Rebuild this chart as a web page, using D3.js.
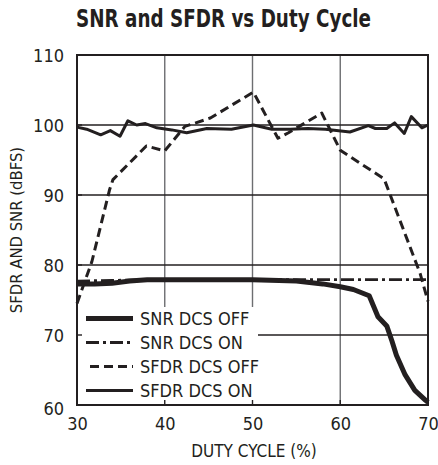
<!DOCTYPE html>
<html>
<head>
<meta charset="utf-8">
<script src="https://cdn.jsdelivr.net/npm/d3@7"></script>
<style>
  html, body { margin: 0; padding: 0; background: #fff; }
  svg { display: block; }
  text { font-family: 'Liberation Sans Narrow', 'Arial Narrow', 'DejaVu Sans Condensed', sans-serif; fill: #231f20; }
</style>
</head>
<body>
<svg id="chart" width="438" height="465"></svg>
<script>
// Duty cycle (%) sample positions and measured levels (dBFS) for each trace
const snrOffDuty = [30, 32, 34, 36, 38, 45, 50, 55, 58, 60, 61.5, 63.3, 64.3, 65.3, 65.9, 66.4, 67.4, 68.5, 69.7, 70];
const snrOffVal  = [77.3, 77.3, 77.4, 77.7, 77.9, 77.9, 77.9, 77.7, 77.3, 76.9, 76.5, 75.6, 72.6, 71.3, 69.1, 67.1, 64.3, 62.1, 60.7, 60.4];

const snrOnDuty = [30, 34, 38, 50, 60, 70];
const snrOnVal  = [77.7, 77.8, 77.9, 77.9, 77.9, 77.9];

const sfdrOffDuty = [30, 31.7, 33.7, 34.1, 37.9, 40, 42.3, 45.2, 50.1, 52.9, 54.1, 57.9, 60, 65, 69.1, 70];
const sfdrOffVal  = [74.5, 80.5, 90.7, 92.2, 97.0, 96.3, 99.8, 101, 104.7, 98.1, 98.9, 101.7, 96.4, 92.3, 78.8, 74.8];

const sfdrOnDuty = [30, 31.1, 32.7, 33.8, 34.9, 35.8, 36.8, 37.8, 39.1, 40.8, 42.5, 44.8, 47.6, 50.1, 52.2, 54.3, 56.3, 58.3, 61.1, 63.2, 64, 65.3, 66.2, 67.3, 68.1, 69.3, 70];
const sfdrOnVal  = [99.7, 99.4, 98.6, 99.2, 98.4, 100.6, 100, 100.2, 99.6, 99.3, 98.9, 99.5, 99.4, 100, 99.4, 99.4, 99.5, 99.4, 99.0, 99.9, 99.5, 99.5, 100.3, 98.8, 101.2, 99.6, 100];

const xTicks = [30, 40, 50, 60, 70];
const yTicks = [60, 70, 80, 90, 100, 110];
const legendLabels = ["SNR DCS OFF", "SNR DCS ON", "SFDR DCS OFF", "SFDR DCS ON"];

const ink = "#231f20";
const plotL = 77, plotR = 428, plotT = 55, plotB = 405;

const svg = d3.select("#chart");
const x = d3.scaleLinear().domain([30, 70]).range([plotL, plotR]);
const y = d3.scaleLinear().domain([60, 110]).range([plotB, plotT]);

// Title, squeezed to a condensed width
svg.append("text")
  .attr("x", 76).attr("y", 27)
  .attr("textLength", 295).attr("lengthAdjust", "spacingAndGlyphs")
  .style("font-size", "24px").style("font-weight", "bold")
  .text("SNR and SFDR vs Duty Cycle");

// Grid: light vertical lines, dark horizontal lines
const grid = svg.append("g");
grid.selectAll("line.v").data(xTicks.slice(1, -1)).enter().append("line")
  .attr("x1", d => x(d)).attr("x2", d => x(d))
  .attr("y1", plotT).attr("y2", plotB)
  .attr("stroke", "#6d6e71").attr("stroke-width", 1.4);
grid.selectAll("line.h").data(yTicks.slice(1, -1)).enter().append("line")
  .attr("x1", plotL).attr("x2", plotR)
  .attr("y1", d => y(d)).attr("y2", d => y(d))
  .attr("stroke", ink).attr("stroke-width", 1.4);

const line = d3.line().x(d => x(d[0])).y(d => y(d[1]));
const pairs = (xs, ys) => xs.map((v, i) => [v, ys[i]]);

const styles = [
  { data: pairs(snrOffDuty, snrOffVal), width: 5, dash: null },
  { data: pairs(snrOnDuty, snrOnVal), width: 2.8, dash: "13,4,3,4" },
  { data: pairs(sfdrOffDuty, sfdrOffVal), width: 3, dash: "9,5" },
  { data: pairs(sfdrOnDuty, sfdrOnVal), width: 3, dash: null }
];

const traces = svg.append("g");
[styles[2], styles[1], styles[0], styles[3]].forEach(s => {
  traces.append("path")
    .attr("d", line(s.data))
    .attr("fill", "none")
    .attr("stroke", ink)
    .attr("stroke-width", s.width)
    .attr("stroke-linejoin", "round")
    .attr("stroke-dasharray", s.dash);
});

// Legend panel
const lg = svg.append("g");
lg.append("rect")
  .attr("x", plotL).attr("y", 307).attr("width", 181).attr("height", plotB - 307)
  .attr("fill", "#fff");
const rowY = [318.5, 342.5, 366.5, 390.5];
legendLabels.forEach((lab, i) => {
  const s = styles[i];
  lg.append("line")
    .attr("x1", i === 2 ? 90 : 86).attr("x2", 133)
    .attr("y1", rowY[i]).attr("y2", rowY[i])
    .attr("stroke", ink).attr("stroke-width", s.width)
    .attr("stroke-dasharray", s.dash);
  lg.append("text")
    .attr("x", 140).attr("y", rowY[i] + 6.5)
    .style("font-size", "18px")
    .text(lab);
});

// Short inward ticks along the edges
const ticks = svg.append("g").attr("stroke", ink).attr("stroke-width", 1.4);
xTicks.slice(1, -1).forEach(d => {
  ticks.append("line").attr("x1", x(d)).attr("x2", x(d)).attr("y1", plotB).attr("y2", plotB - 5);
});
yTicks.slice(1, -1).forEach(d => {
  ticks.append("line").attr("x1", plotL).attr("x2", plotL + 5).attr("y1", y(d)).attr("y2", y(d));
});

// Frame
svg.append("rect")
  .attr("x", plotL).attr("y", plotT).attr("width", plotR - plotL).attr("height", plotB - plotT)
  .attr("fill", "none").attr("stroke", ink).attr("stroke-width", 2);

// Tick labels through d3 axes with the axis lines removed
const xAxis = svg.append("g").attr("transform", `translate(0,${plotB})`)
  .call(d3.axisBottom(x).tickValues(xTicks).tickSize(0).tickPadding(0));
xAxis.select(".domain").remove();
xAxis.selectAll("text").attr("dy", null).attr("y", 25).style("font-size", "18px").attr("fill", ink).style("font-family", null);

const yAxis = svg.append("g").attr("transform", `translate(${plotL},0)`)
  .call(d3.axisLeft(y).tickValues(yTicks).tickSize(0).tickPadding(0));
yAxis.select(".domain").remove();
yAxis.selectAll("text").attr("x", -13).attr("dy", "0.35em").style("font-size", "18px").attr("fill", ink).style("font-family", null);
yAxis.selectAll("g.tick").filter(d => d === 60).select("text").attr("dy", "0.55em");

svg.append("text")
  .attr("x", 254).attr("y", 457)
  .attr("text-anchor", "middle")
  .style("font-size", "17px")
  .text("DUTY CYCLE (%)");

svg.append("text")
  .attr("transform", `translate(22,${(plotT + plotB) / 2}) rotate(-90)`)
  .attr("text-anchor", "middle")
  .style("font-size", "16.5px")
  .text("SFDR AND SNR (dBFS)");
</script>
</body>
</html>
